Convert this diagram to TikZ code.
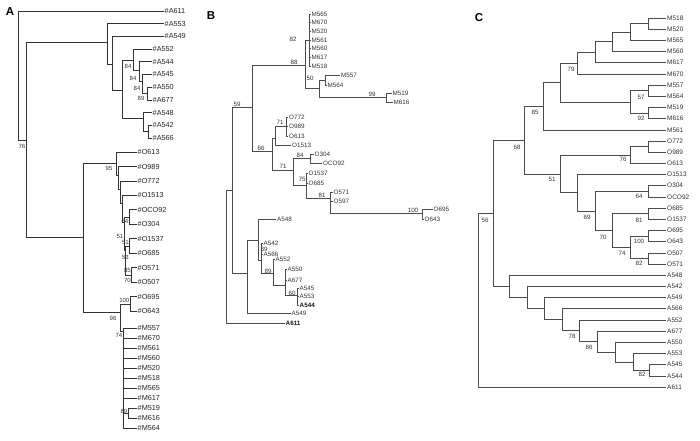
\documentclass[tikz,border=0pt]{standalone}
\usepackage{fontspec}
\setmainfont{Liberation Sans}
\begin{document}
\begin{tikzpicture}[x=1pt,y=-1pt,
  br/.style={line width=0.65pt, draw=black!80},
  brc/.style={line width=0.55pt, draw=black!70},
  tipA/.style={anchor=west, inner sep=1pt, text=black!85, font=\fontsize{7.3}{8}\selectfont},
  tipB/.style={anchor=west, inner sep=1pt, text=black!80, font=\fontsize{6.3}{7}\selectfont},
  tipBb/.style={anchor=west, inner sep=1pt, text=black!90, font=\fontsize{6.3}{7}\selectfont\bfseries},
  tipC/.style={anchor=west, inner sep=1pt, text=black!80, font=\fontsize{6.5}{7}\selectfont},
  bs/.style={inner sep=0pt, text=black!80, font=\fontsize{6.2}{7}\selectfont},
  bsA/.style={inner sep=0pt, text=black!80, font=\fontsize{6}{7}\selectfont},
  panel/.style={inner sep=0pt, font=\fontsize{11.5}{12}\selectfont\bfseries}]
\useasboundingbox[fill=white] (0,0) rectangle (700,440);

% ================= PANEL A =================
\node[panel] (LA) at (10,12) {A};
\foreach \n/\y in {A611/11,A553/23.7,A549/36.4}
  \node[tipA] (a\n) at (163.5,\y) {\#\n};
\foreach \n/\y in {A552/49.1,A544/61.8,A545/74.5,A550/87.2,A677/99.9,A548/112.6,A542/125.3,A566/138}
  \node[tipA] (a\n) at (151.5,\y) {\#\n};
\foreach \n/\y in {O613/152,O989/166.5,O772/181,O1513/195.4,OCO92/209.8,O304/224.3,O1537/238.7,O685/253.2,O571/267.6,O507/282,O695/296.5,O643/311}
  \node[tipA] (a\n) at (136.5,\y) {\#\n};
\foreach \n/\y in {M557/328,M670/338,M561/348,M560/358,M520/368,M518/378,M565/388,M617/398,M519/408,M616/418,M564/428}
  \node[tipA] (a\n) at (136.5,\y) {\#\n};

\coordinate (aR) at (18,140);
\coordinate (a26) at (26,140);
\coordinate (a107) at (107,42);
\coordinate (a112) at (112,64);
\coordinate (a122) at (122,90);
\coordinate (a133) at (133,60);
\coordinate (a139) at (139,70);
\coordinate (a142) at (142,81);
\coordinate (a147) at (147,93.5);
\coordinate (a143) at (143,118);
\coordinate (a148) at (148,131.6);
\coordinate (a83) at (83,237);
\coordinate (a116) at (116,163);
\coordinate (aO1) at (118,175);
\coordinate (aO2) at (120,189);
\coordinate (aO3) at (122,203);
\coordinate (aO4) at (124,222);
\coordinate (aC1) at (129,217);
\coordinate (aO5) at (125.5,250);
\coordinate (aC2) at (129.5,246);
\coordinate (aC3) at (131.5,275);
\coordinate (aM0) at (120,312);
\coordinate (aC4) at (130,304);
\coordinate (aM1) at (123,331);
\coordinate (aM2) at (128,413);

\draw[br] (aR) |- (aA611.west);
\draw[br] (aR) -- (a26);
\draw[br] (a26) |- (a107);
\draw[br] (a26) |- (a83);
\draw[br] (a107) |- (aA553.west);
\draw[br] (a107) |- (a112);
\draw[br] (a112) |- (aA549.west);
\draw[br] (a112) |- (a122);
\draw[br] (a122) |- (a133);
\draw[br] (a122) |- (a143);
\draw[br] (a133) |- (aA552.west);
\draw[br] (a133) |- (a139);
\draw[br] (a139) |- (aA544.west);
\draw[br] (a139) |- (a142);
\draw[br] (a142) |- (aA545.west);
\draw[br] (a142) |- (a147);
\foreach \n in {A550,A677} \draw[br] (a147) |- (a\n.west);
\draw[br] (a143) |- (aA548.west);
\draw[br] (a143) |- (a148);
\foreach \n in {A542,A566} \draw[br] (a148) |- (a\n.west);
\draw[br] (a83) |- (a116);
\draw[br] (a83) |- (aM0);
\draw[br] (a116) |- (aO613.west);
\draw[br] (a116) |- (aO1);
\draw[br] (aO1) |- (aO989.west);
\draw[br] (aO1) |- (aO2);
\draw[br] (aO2) |- (aO772.west);
\draw[br] (aO2) |- (aO3);
\draw[br] (aO3) |- (aO1513.west);
\draw[br] (aO3) |- (aO4);
\draw[br] (aO4) |- (aC1);
\draw[br] (aO4) |- (aO5);
\foreach \n in {OCO92,O304} \draw[br] (aC1) |- (a\n.west);
\draw[br] (aO5) |- (aC2);
\draw[br] (aO5) |- (aC3);
\foreach \n in {O1537,O685} \draw[br] (aC2) |- (a\n.west);
\foreach \n in {O571,O507} \draw[br] (aC3) |- (a\n.west);
\draw[br] (aM0) |- (aC4);
\draw[br] (aM0) |- (aM1);
\foreach \n in {O695,O643} \draw[br] (aC4) |- (a\n.west);
\foreach \n in {M557,M670,M561,M560,M520,M518,M565,M617,M564} \draw[br] (aM1) |- (a\n.west);
\draw[br] (aM1) |- (aM2);
\foreach \n in {M519,M616} \draw[br] (aM2) |- (a\n.west);

\node[bsA] (aL1) at (22,146) {76};
\node[bsA] (aL2) at (128,66) {84};
\node[bsA] (aL3) at (133,78) {84};
\node[bsA] (aL4) at (137,88) {84};
\node[bsA] (aL5) at (141,98) {89};
\node[bsA] (aL6) at (109,168) {95};
\node[bsA,anchor=east] (aL7) at (128.5,221.5) {64};
\node[bsA,anchor=east] (aL8) at (123.5,236) {51};
\node[bsA,anchor=east] (aL9) at (129,242) {51};
\node[bsA,anchor=east] (aL10) at (129,257) {53};
\node[bsA,anchor=east] (aL11) at (131,270) {85};
\node[bsA,anchor=east] (aL12) at (131,280) {70};
\node[bsA,anchor=east] (aL13) at (129.5,300) {100};
\node[bsA] (aL14) at (113,318) {96};
\node[bsA,anchor=east] (aL15) at (122.5,335) {74};
\node[bsA,anchor=east] (aL16) at (127.5,411) {89};

% ================= PANEL B =================
\node[panel] (LB) at (211,16) {B};
\foreach \n/\y in {M565/14,M670/22.7,M520/31.3,M561/40,M560/48.7,M617/57.3,M518/66}
  \node[tipB] (b\n) at (310.5,\y) {\n};
\node[tipB] (bM557) at (340,75) {M557};
\node[tipB] (bM564) at (326.5,85) {M564};
\node[tipB] (bM519) at (391.5,93.5) {M519};
\node[tipB] (bM616) at (392.5,102) {M616};
\foreach \n/\y in {O772/117,O989/126.5,O613/136}
  \node[tipB] (b\n) at (288,\y) {\n};
\node[tipB] (bO1513) at (291,145) {O1513};
\node[tipB] (bO304) at (313.5,154) {O304};
\node[tipB] (bOCO92) at (322,163) {OCO92};
\node[tipB] (bO1537) at (307.5,173) {O1537};
\node[tipB] (bO685) at (307.5,183) {O685};
\node[tipB] (bO571) at (332.5,192) {O571};
\node[tipB] (bO597) at (332.5,201) {O597};
\node[tipB] (bO695) at (432.5,209) {O695};
\node[tipB] (bO643) at (423.5,219) {O643};
\node[tipB] (bA548) at (276,219) {A548};
\node[tipB] (bA542) at (262.5,243) {A542};
\node[tipB] (bA566) at (262.5,254) {A566};
\node[tipB] (bA552) at (274.5,259) {A552};
\node[tipB] (bA550) at (286.5,269) {A550};
\node[tipB] (bA677) at (286.5,280) {A677};
\node[tipB] (bA545) at (298.5,288) {A545};
\node[tipB] (bA553) at (298.5,296.5) {A553};
\node[tipBb] (bA544) at (298.5,305) {A544};
\node[tipB] (bA549) at (290.5,313) {A549};
\node[tipBb] (bA611) at (284.5,323) {A611};

\coordinate (bR) at (226,190);
\coordinate (b59) at (232,190);
\coordinate (b252) at (252,107);
\coordinate (b305) at (305,65);
\coordinate (bMp) at (309,40);
\coordinate (b319) at (319,88);
\coordinate (b325) at (325,80);
\coordinate (b386) at (386,97);
\coordinate (b66) at (272,151);
\coordinate (bx) at (275,138);
\coordinate (b71a) at (286,126.5);
\coordinate (b71b) at (293,170);
\coordinate (b84) at (310,158.5);
\coordinate (b75) at (306,185);
\coordinate (b81) at (330,198);
\coordinate (b100) at (422,213);
\coordinate (bBA) at (247,273);
\coordinate (b258) at (258,240);
\coordinate (b261) at (261,260);
\coordinate (b273) at (273,273);
\coordinate (b285) at (285,285);
\coordinate (b297) at (297,295);

\draw[brc] (bR) -- (b59);
\draw[brc] (bR) |- (bA611.west);
\draw[brc] (b59) |- (b252);
\draw[brc] (b59) |- (bBA);
\draw[brc] (b252) |- (b305);
\draw[brc] (b252) |- (b66);
\draw[brc] (b305) |- (bMp);
\draw[brc] (b305) |- (b319);
\foreach \n in {M565,M670,M520,M561,M560,M617,M518} \draw[brc] (bMp) |- (b\n.west);
\draw[brc] (b319) |- (b325);
\draw[brc] (b319) |- (b386);
\foreach \n in {M557,M564} \draw[brc] (b325) |- (b\n.west);
\foreach \n in {M519,M616} \draw[brc] (b386) |- (b\n.west);
\draw[brc] (b66) |- (bx);
\draw[brc] (b66) |- (b71b);
\draw[brc] (bx) |- (b71a);
\draw[brc] (bx) |- (bO1513.west);
\foreach \n in {O772,O989,O613} \draw[brc] (b71a) |- (b\n.west);
\draw[brc] (b71b) |- (b84);
\draw[brc] (b71b) |- (b75);
\foreach \n in {O304,OCO92} \draw[brc] (b84) |- (b\n.west);
\foreach \n in {O1537,O685} \draw[brc] (b75) |- (b\n.west);
\draw[brc] (b75) |- (b81);
\foreach \n in {O571,O597} \draw[brc] (b81) |- (b\n.west);
\draw[brc] (b81) |- (b100);
\foreach \n in {O695,O643} \draw[brc] (b100) |- (b\n.west);
\draw[brc] (bBA) |- (b258);
\draw[brc] (bBA) |- (bA549.west);
\draw[brc] (b258) |- (bA548.west);
\draw[brc] (b258) |- (b261);
\foreach \n in {A542,A566} \draw[brc] (b261) |- (b\n.west);
\draw[brc] (b261) |- (b273);
\draw[brc] (b273) |- (bA552.west);
\draw[brc] (b273) |- (b285);
\foreach \n in {A550,A677} \draw[brc] (b285) |- (b\n.west);
\draw[brc] (b285) |- (b297);
\foreach \n in {A545,A553,A544} \draw[brc] (b297) |- (b\n.west);

\node[bs] (bL1) at (237,104) {59};
\node[bs] (bL2) at (294,62) {88};
\node[bs] (bL3) at (293,39) {82};
\node[bs] (bL4) at (310,78) {50};
\node[bs] (bL5) at (372,94) {99};
\node[bs] (bL6) at (280,122) {71};
\node[bs] (bL7) at (261,148) {66};
\node[bs] (bL8) at (283,166) {71};
\node[bs] (bL9) at (300,155) {84};
\node[bs] (bL10) at (302,179) {75};
\node[bs] (bL11) at (322,195) {81};
\node[bs] (bL12) at (413,210) {100};
\node[bs] (bL13) at (264,249) {89};
\node[bs] (bL14) at (268,271) {89};
\node[bs] (bL15) at (292,293) {60};

% ================= PANEL C =================
\node[panel] (LC) at (479,18) {C};
\foreach \n/\y in {M518/18.0,M520/29.2,M565/40.4,M560/51.5,M617/62.7,M670/73.9,M557/85.1,M564/96.3,M519/107.4,M616/118.6,M561/129.8,O772/141.0,O989/152.2,O613/163.3,O1513/174.5,O304/185.7,OCO92/196.9,O685/208.1,O1537/219.2,O695/230.4,O643/241.6,O507/252.8,O571/264.0,A548/275.1,A542/286.3,A549/297.5,A566/308.7,A552/319.9,A677/331.0,A550/342.2,A553/353.4,A545/364.6,A544/375.8,A611/387.0}
  \node[tipC] (c\n) at (666,\y) {\n};

\coordinate (cMa) at (648,23.6);
\coordinate (cMb) at (630,32);
\coordinate (cMc) at (612,41.75);
\coordinate (cMd) at (595,52.2);
\coordinate (cMe) at (577,63.05);
\coordinate (cMg) at (648,90.7);
\coordinate (cMh) at (648,113);
\coordinate (cMf) at (630,101.85);
\coordinate (cMi) at (560,82.45);
\coordinate (cMj) at (543,106.1);
\coordinate (cOa) at (648,146.6);
\coordinate (cOb) at (630,154.95);
\coordinate (cOc) at (648,191.3);
\coordinate (cOd) at (648,213.65);
\coordinate (cOe) at (648,236);
\coordinate (cOf) at (648,258.4);
\coordinate (cOg) at (630,247.2);
\coordinate (cOh) at (612,230.4);
\coordinate (cOi) at (595,210.85);
\coordinate (cOj) at (577,192.7);
\coordinate (cOk) at (560,173.8);
\coordinate (cK) at (524,139.95);
\coordinate (cAa) at (649,370.2);
\coordinate (cAb) at (633,361.8);
\coordinate (cAc) at (615,352);
\coordinate (cAd) at (597,341.5);
\coordinate (cAe) at (579,330.7);
\coordinate (cAf) at (562,319.7);
\coordinate (cAg) at (544,308.6);
\coordinate (cAh) at (527,297.45);
\coordinate (cAi) at (509,286.3);
\coordinate (cM) at (493,213.1);
\coordinate (cR) at (478,300);

\foreach \n in {M518,M520} \draw[brc] (cMa) |- (c\n.west);
\draw[brc] (cMb) |- (cMa); \draw[brc] (cMb) |- (cM565.west);
\draw[brc] (cMc) |- (cMb); \draw[brc] (cMc) |- (cM560.west);
\draw[brc] (cMd) |- (cMc); \draw[brc] (cMd) |- (cM617.west);
\draw[brc] (cMe) |- (cMd); \draw[brc] (cMe) |- (cM670.west);
\foreach \n in {M557,M564} \draw[brc] (cMg) |- (c\n.west);
\foreach \n in {M519,M616} \draw[brc] (cMh) |- (c\n.west);
\draw[brc] (cMf) |- (cMg); \draw[brc] (cMf) |- (cMh);
\draw[brc] (cMi) |- (cMe); \draw[brc] (cMi) |- (cMf);
\draw[brc] (cMj) |- (cMi); \draw[brc] (cMj) |- (cM561.west);
\foreach \n in {O772,O989} \draw[brc] (cOa) |- (c\n.west);
\draw[brc] (cOb) |- (cOa); \draw[brc] (cOb) |- (cO613.west);
\foreach \n in {O304,OCO92} \draw[brc] (cOc) |- (c\n.west);
\foreach \n in {O685,O1537} \draw[brc] (cOd) |- (c\n.west);
\foreach \n in {O695,O643} \draw[brc] (cOe) |- (c\n.west);
\foreach \n in {O507,O571} \draw[brc] (cOf) |- (c\n.west);
\draw[brc] (cOg) |- (cOe); \draw[brc] (cOg) |- (cOf);
\draw[brc] (cOh) |- (cOd); \draw[brc] (cOh) |- (cOg);
\draw[brc] (cOi) |- (cOc); \draw[brc] (cOi) |- (cOh);
\draw[brc] (cOj) |- (cO1513.west); \draw[brc] (cOj) |- (cOi);
\draw[brc] (cOk) |- (cOb); \draw[brc] (cOk) |- (cOj);
\draw[brc] (cK) |- (cMj); \draw[brc] (cK) |- (cOk);
\foreach \n in {A545,A544} \draw[brc] (cAa) |- (c\n.west);
\draw[brc] (cAb) |- (cA553.west); \draw[brc] (cAb) |- (cAa);
\draw[brc] (cAc) |- (cA550.west); \draw[brc] (cAc) |- (cAb);
\draw[brc] (cAd) |- (cA677.west); \draw[brc] (cAd) |- (cAc);
\draw[brc] (cAe) |- (cA552.west); \draw[brc] (cAe) |- (cAd);
\draw[brc] (cAf) |- (cA566.west); \draw[brc] (cAf) |- (cAe);
\draw[brc] (cAg) |- (cA549.west); \draw[brc] (cAg) |- (cAf);
\draw[brc] (cAh) |- (cA542.west); \draw[brc] (cAh) |- (cAg);
\draw[brc] (cAi) |- (cA548.west); \draw[brc] (cAi) |- (cAh);
\draw[brc] (cM) |- (cK); \draw[brc] (cM) |- (cAi);
\draw[brc] (cR) |- (cM); \draw[brc] (cR) |- (cA611.west);

\node[bs] (cL1) at (571,69) {79};
\node[bs] (cL2) at (535,112) {85};
\node[bs] (cL3) at (641,97) {57};
\node[bs] (cL4) at (641,118) {92};
\node[bs] (cL5) at (517,147) {68};
\node[bs] (cL6) at (485,220) {56};
\node[bs] (cL7) at (623,159) {76};
\node[bs] (cL8) at (552,179) {51};
\node[bs] (cL9) at (639,196) {64};
\node[bs] (cL10) at (587,217) {69};
\node[bs] (cL11) at (639,220) {81};
\node[bs] (cL12) at (603,237) {70};
\node[bs] (cL13) at (639,241) {100};
\node[bs] (cL14) at (622,253) {74};
\node[bs] (cL15) at (639,263) {82};
\node[bs] (cL16) at (572,336) {78};
\node[bs] (cL17) at (589,347) {86};
\node[bs] (cL18) at (642,374) {82};
\end{tikzpicture}
\end{document}
